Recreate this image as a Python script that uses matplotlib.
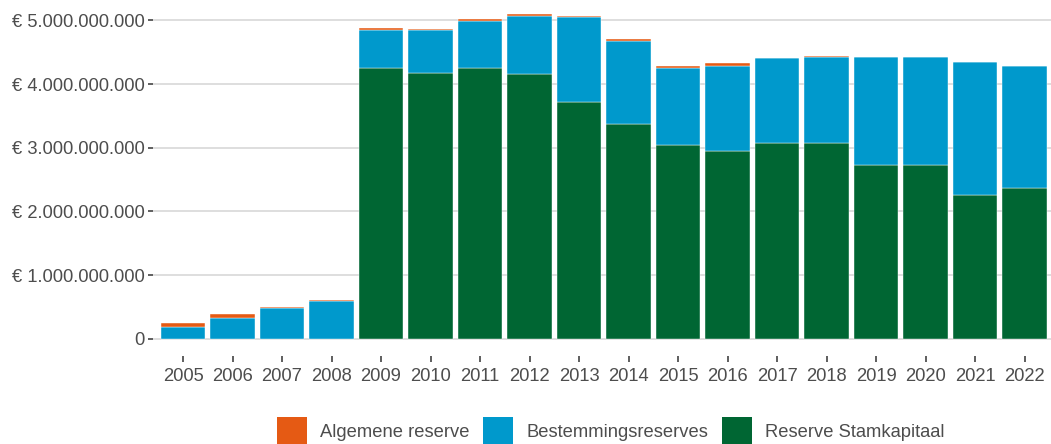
import matplotlib
matplotlib.use("Agg")
import matplotlib.pyplot as plt
from matplotlib.patches import Patch
from matplotlib.ticker import FuncFormatter
import numpy as np

# waarden in miljoenen euro
years = [str(y) for y in range(2005, 2023)]
stamkapitaal = [0, 0, 0, 0, 4251, 4168, 4246, 4152, 3722, 3372, 3047, 2943,
                3069, 3074, 2724, 2724, 2253, 2367]
bestemming = [180, 320, 485, 590, 602, 685, 748, 920, 1330, 1308, 1204, 1335,
              1339, 1346, 1696, 1696, 2092, 1920]
algemeen = [75, 67, 15, 26, 31, 15, 31, 22, 20, 20, 36, 47, 4, 15, 3, 3, 0, 0]

col_alg = "#E55A14"
col_best = "#0099CC"
col_stam = "#006633"
txt_col = "#4D4D4D"
fs = 13.2

plt.rcParams['font.family'] = ['Liberation Sans', 'DejaVu Sans']

stam = np.array(stamkapitaal) * 1e6
best = np.array(bestemming) * 1e6
alg = np.array(algemeen) * 1e6
x = np.arange(len(years))

fig = plt.figure(figsize=(10.51, 4.44), dpi=100)
ax = fig.add_axes([153.3 / 1051, 88 / 444, (1051 - 153.3) / 1051, 356 / 444])

bw = 0.9
ax.bar(x, stam, width=bw, color=col_stam, edgecolor="white", linewidth=0.3, zorder=3)
ax.bar(x, best, width=bw, bottom=stam, color=col_best, edgecolor="white", linewidth=0.3, zorder=3)
ax.bar(x, alg, width=bw, bottom=stam + best, color=col_alg, edgecolor="white", linewidth=0.3, zorder=3)

ax.set_xlim(-0.6, 17.535)
ax.set_ylim(-0.27e9, 5.319e9)
ax.set_xticks(x)
ax.set_xticklabels(years)
ax.set_yticks(np.arange(0, 5.1e9, 1e9))


def euro(v, pos):
    if v == 0:
        return "0"
    return "€ " + f"{int(round(v)):,}".replace(",", ".")


ax.yaxis.set_major_formatter(FuncFormatter(euro))
ax.grid(axis="y", color="#DEDEDE", linewidth=1.4, zorder=0)
ax.grid(axis="x", visible=False)
for s in ax.spines.values():
    s.set_visible(False)
ax.tick_params(axis="both", colors="#333333", labelcolor=txt_col, labelsize=fs,
               width=1.1)
ax.tick_params(axis="y", length=3.6, pad=2.9)
ax.tick_params(axis="x", length=4.3, pad=4)

handles = [Patch(facecolor=col_alg, label="Algemene reserve"),
           Patch(facecolor=col_best, label="Bestemmingsreserves"),
           Patch(facecolor=col_stam, label="Reserve Stamkapitaal")]
fig.legend(handles=handles, loc="upper center", bbox_to_anchor=(0.581, 27.3 / 444),
           ncol=3, frameon=False, fontsize=fs, labelcolor=txt_col,
           handlelength=1.636, handleheight=2.14, handletextpad=0.727,
           columnspacing=0.727, borderpad=0, borderaxespad=0)

fig.savefig("out.png", dpi=100)
